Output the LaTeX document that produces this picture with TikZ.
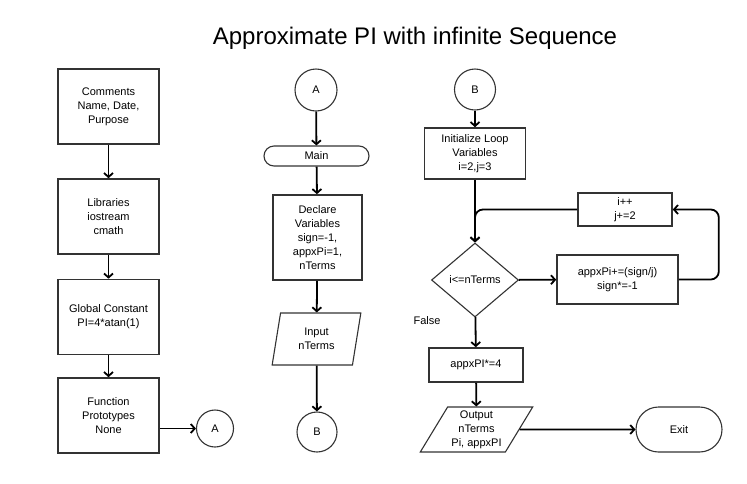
\documentclass[tikz,border=0pt]{standalone}
\usepackage{fontspec}
\setmainfont{Liberation Sans}
\usetikzlibrary{shapes.geometric,shapes.misc,arrows.meta}
\definecolor{linegray}{HTML}{333333}

\begin{document}
\begin{tikzpicture}[x=1pt, y=-1pt,
  txt/.style={font=\fontsize{11}{14}\selectfont, align=center, inner sep=0pt},
  procbox/.style={txt, draw=linegray, line width=1.6pt},
  connector/.style={txt, circle, draw=linegray, line width=1.1pt},
  terminal/.style={txt, rounded rectangle, draw=linegray, line width=1.1pt},
  iobox/.style={txt, trapezium, trapezium stretches=true, draw=linegray, line width=1.1pt},
  decision/.style={txt, diamond, draw=linegray, line width=1.1pt},
  flow/.style={line width=1.8pt, -{Straight Barb[length=4pt, width=9pt]}}]
  % page
  \fill[white] (0,0) rectangle (747,483);
  \node[font=\fontsize{24}{28}\selectfont] (title) at (415,38) {Approximate PI with infinite Sequence};

  % left column
  \node[procbox, minimum width=101, minimum height=75] (comments) at (108.5,106.5) {Comments\\Name, Date,\\Purpose};
  \node[procbox, minimum width=101, minimum height=75] (libs) at (108.5,216.5) {Libraries\\iostream\\cmath};
  \node[procbox, minimum width=101, minimum height=75] (global) at (108.5,317) {Global Constant\\PI=4*atan(1)};
  \node[procbox, minimum width=101, minimum height=75] (proto) at (108.5,415.5) {Function\\Prototypes\\None};
  \node[connector, minimum size=37] (conA) at (215,428.5) {A};

  % main column
  \node[connector, minimum size=42] (mainA) at (316,90) {A};
  \node[terminal, minimum width=105, minimum height=20] (main) at (316.5,156) {Main};
  \node[procbox, minimum width=89, minimum height=85] (declare) at (317.5,237.5) {Declare\\Variables\\sign=-1,\\appxPi=1,\\nTerms};
  \node[iobox, trapezium left angle=79, trapezium right angle=101, minimum width=89, minimum height=52] (input) at (316.5,339) {Input\\nTerms};
  \node[connector, minimum size=40] (mainB) at (317,432) {B};

  % loop column
  \node[connector, minimum size=41] (loopB) at (475,89.5) {B};
  \node[procbox, minimum width=101, minimum height=51] (init) at (475,153.5) {Initialize Loop\\Variables\\i=2,j=3};
  \node[decision, minimum width=87, minimum height=74] (test) at (475,280) {i<=nTerms};
  \node[procbox, minimum width=121, minimum height=49] (update) at (617.5,279.5) {appxPi+=(sign/j)\\sign*=-1};
  \node[procbox, minimum width=94, minimum height=33] (incr) at (625,209.5) {i++\\j+=2};
  \node[txt] (false) at (427,321) {False};
  \node[procbox, minimum width=94, minimum height=34] (times4) at (476,365) {appxPI*=4};
  \node[iobox, trapezium left angle=58, trapezium right angle=122, minimum width=113, minimum height=45] (output) at (476.5,429.5) {Output\\nTerms\\Pi, appxPI};
  \node[terminal, minimum width=86, minimum height=45] (exit) at (679,429.5) {Exit};

  % arrows
  \draw[flow] (comments) -- (libs);
  \draw[flow] (libs) -- (global);
  \draw[flow] (global) -- (proto);
  \draw[flow] (proto.east |- conA) -- (conA);
  \draw[flow] (mainA) -- (main);
  \draw[flow] (main) -- (declare);
  \draw[flow] (declare) -- (input);
  \draw[flow] (input) -- (mainB);
  \draw[flow] (loopB) -- (init);
  \draw[flow] (init) -- (test);
  \draw[flow] (test) -- (update);
  \draw[flow, rounded corners=8] (update.east) -- ++(40,0) |- (incr.east);
  \draw[flow, rounded corners=8] (incr.west) -| (test.north);
  \draw[flow] (test) -- (times4);
  \draw[flow] (times4) -- (output);
  \draw[flow] (output) -- (exit);
\end{tikzpicture}
\end{document}
